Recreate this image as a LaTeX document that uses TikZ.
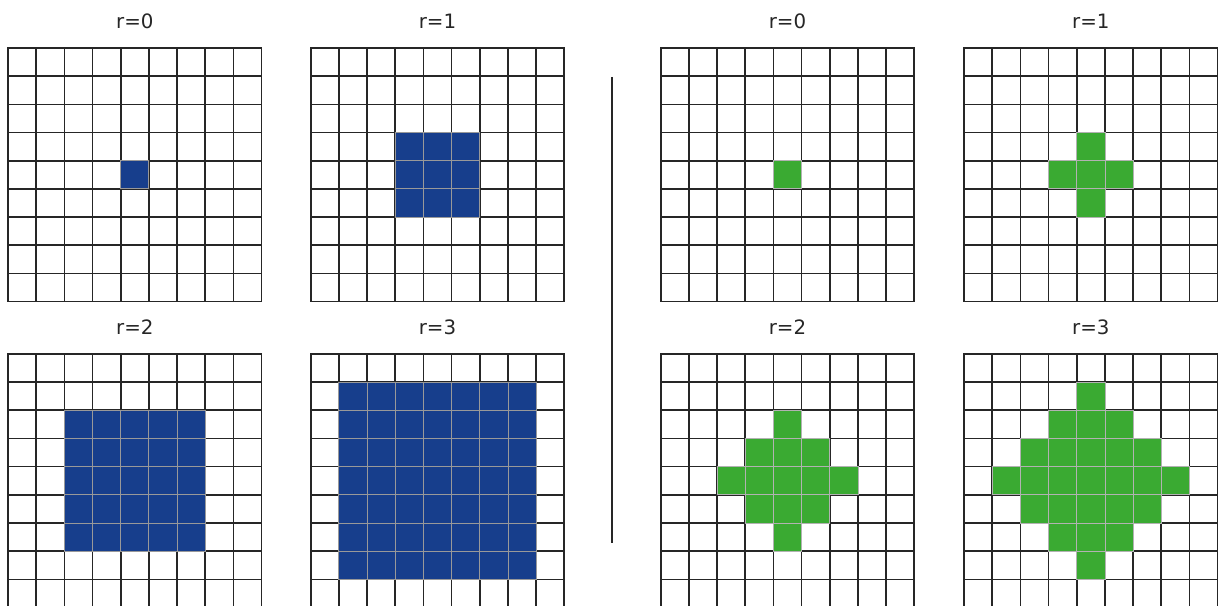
\documentclass[tikz,border=0pt]{standalone}
\usepackage{fontspec}
\setsansfont{DejaVu Sans}
\definecolor{azulcelda}{RGB}{23,62,140}
\definecolor{verdecelda}{RGB}{58,170,50}

\begin{document}
\begin{tikzpicture}[x=0.6cm, y=0.6cm,
    every node/.style={font=\sffamily\fontsize{12}{14}\selectfont, text=black!85},
    rejilla/.style={step=1, line width=1pt, black!85, line cap=rect},
    celdaazul/.style={fill=azulcelda, draw=gray!80, line width=0.5pt},
    celdaverde/.style={fill=verdecelda, draw=gray!60, line width=0.5pt}]
    % Marco de la figura
    \useasboundingbox (0,0) rectangle (43.258,21.469);

    % Bolas cuadradas (izquierda, azul)
    \foreach \r/\gx/\gy in {0/0.284/10.766, 1/11.025/10.766, 2/0.284/-0.09, 3/11.025/-0.09} {
        \begin{scope}[shift={(\gx,\gy)}]
            \draw[rejilla] (0,0) grid (9,9);
            \foreach \i in {0,...,8} \foreach \j in {0,...,8} {
                \pgfmathtruncatemacro\dist{max(abs(\i-4),abs(\j-4))}
                \ifnum\dist>\r\else
                    \draw[celdaazul] (\i,\j) rectangle ++(1,1);
                \fi
            }
            \node (cuad\r) at (4.5,9.96) {r=\r};
        \end{scope}
    }

    % Separador
    \coordinate (sepArriba) at (21.718,18.737);
    \coordinate (sepAbajo) at (21.718,2.2);
    \draw[line width=1pt, black!85] (sepArriba) -- (sepAbajo);

    % Bolas en rombo (derecha, verde)
    \foreach \r/\gx/\gy in {0/23.445/10.766, 1/34.209/10.766, 2/23.445/-0.09, 3/34.209/-0.09} {
        \begin{scope}[shift={(\gx,\gy)}]
            \draw[rejilla] (0,0) grid (9,9);
            \foreach \i in {0,...,8} \foreach \j in {0,...,8} {
                \pgfmathtruncatemacro\dist{abs(\i-4)+abs(\j-4)}
                \ifnum\dist>\r\else
                    \draw[celdaverde] (\i,\j) rectangle ++(1,1);
                \fi
            }
            \node (romb\r) at (4.5,9.96) {r=\r};
        \end{scope}
    }
\end{tikzpicture}
\end{document}
